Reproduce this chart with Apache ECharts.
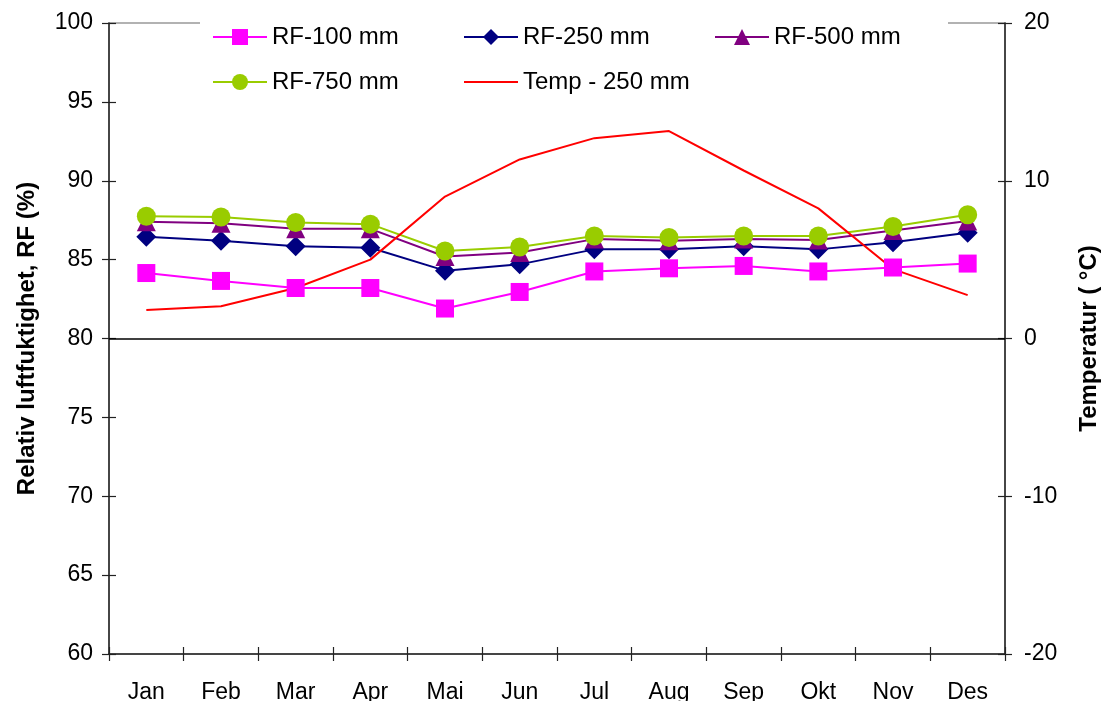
<!DOCTYPE html>
<html>
<head>
<meta charset="utf-8">
<title>Relativ luftfuktighet og temperatur</title>
<script src="https://cdn.jsdelivr.net/npm/echarts@6/dist/echarts.min.js"></script>
<style>
  html, body { margin: 0; padding: 0; background: #fff; }
  #chart { width: 1102px; height: 701px; }
</style>
</head>
<body>
<div id="chart"></div>
<script>
// Months (Norwegian)
const months = ['Jan', 'Feb', 'Mar', 'Apr', 'Mai', 'Jun', 'Jul', 'Aug', 'Sep', 'Okt', 'Nov', 'Des'];

// Relative humidity (%) at four depths
const rf100 = [84.15, 83.65, 83.2, 83.2, 81.9, 82.95, 84.25, 84.45, 84.6, 84.25, 84.5, 84.75];
const rf250 = [86.45, 86.2, 85.85, 85.75, 84.3, 84.7, 85.65, 85.65, 85.85, 85.65, 86.1, 86.7];
const rf500 = [87.4, 87.3, 86.95, 86.95, 85.2, 85.45, 86.3, 86.2, 86.3, 86.25, 86.85, 87.45];
const rf750 = [87.75, 87.7, 87.35, 87.25, 85.55, 85.8, 86.5, 86.4, 86.5, 86.5, 87.1, 87.85];

// Temperature (°C) at 250 mm
const temp250 = [1.8, 2.05, 3.2, 5.0, 9.0, 11.35, 12.7, 13.15, 10.65, 8.25, 4.4, 2.75];

// Axis ranges
const rfAxis = { min: 60, max: 100, interval: 5 };
const tempAxis = { min: -20, max: 20, interval: 10 };

const FONT = 'Liberation Sans, Arial, sans-serif';
const AXIS_COLOR = '#222';

const chart = echarts.init(document.getElementById('chart'), null, { renderer: 'canvas' });

const tickOut = { show: true, inside: false, length: 7, lineStyle: { color: AXIS_COLOR, width: 1.2 } };
const tickIn = { show: true, inside: true, length: 7, lineStyle: { color: AXIS_COLOR, width: 1.2 } };

function rfLine(name, data, color, symbol, size) {
  return {
    name, type: 'line', data,
    xAxisIndex: 0, yAxisIndex: 0,
    symbol, symbolSize: size,
    lineStyle: { color, width: 2 },
    itemStyle: { color },
    emphasis: { disabled: true },
    animation: false
  };
}

const legendCommon = {
  orient: 'horizontal',
  padding: 0,
  itemWidth: 54,
  itemHeight: 20,
  itemGap: 10,
  selectedMode: false,
  textStyle: { fontFamily: FONT, fontSize: 24, color: '#000', width: 181, lineHeight: 28 }
};

chart.setOption({
  backgroundColor: '#fff',
  animation: false,
  grid: {
    left: 109, right: 97, top: 23, bottom: 47,
    outerBoundsMode: 'none',
    containLabel: false,
    show: true, borderColor: '#999', borderWidth: 1.5, backgroundColor: 'transparent'
  },
  graphic: [{
    // white backdrop behind the legend
    type: 'rect', z: 3, silent: true,
    shape: { x: 200, y: 0, width: 748, height: 105 },
    style: { fill: '#fff' }
  }],
  legend: [
    Object.assign({}, legendCommon, {
      left: 212, top: 23,
      data: ['RF-100 mm', 'RF-250 mm', 'RF-500 mm']
    }),
    Object.assign({}, legendCommon, {
      left: 212, top: 68,
      data: [
        'RF-750 mm',
        // temperature is a plain line: hide the legend marker
        { name: 'Temp - 250 mm', itemStyle: { opacity: 0 } }
      ]
    })
  ],
  xAxis: [{
    type: 'category', data: months, position: 'bottom',
    boundaryGap: true,
    axisLine: { show: true, onZero: false, lineStyle: { color: AXIS_COLOR, width: 1.5 } },
    axisTick: Object.assign({ alignWithLabel: false }, tickOut),
    axisLabel: { fontFamily: FONT, fontSize: 23, color: '#000', margin: 27 },
    splitLine: { show: false }
  }, {
    type: 'category', data: months, position: 'bottom',
    boundaryGap: true,
    axisLine: { show: false, onZero: false },
    axisTick: Object.assign({ alignWithLabel: false }, tickIn),
    axisLabel: { show: false },
    splitLine: { show: false }
  }],
  yAxis: [{
    type: 'value', position: 'left',
    min: rfAxis.min, max: rfAxis.max, interval: rfAxis.interval,
    name: 'Relativ luftfuktighet, RF (%)', nameLocation: 'middle', nameRotate: 90, nameGap: 70,
    nameTextStyle: { fontFamily: FONT, fontSize: 24, fontWeight: 'bold', color: '#000' },
    axisLine: { show: true, lineStyle: { color: AXIS_COLOR, width: 1.5 } },
    axisTick: tickOut,
    axisLabel: { fontFamily: FONT, fontSize: 23, color: '#000', margin: 16 },
    splitLine: { show: false }
  }, {
    type: 'value', position: 'right',
    min: tempAxis.min, max: tempAxis.max, interval: tempAxis.interval,
    name: 'Temperatur ( °C)', nameLocation: 'middle', nameRotate: 90, nameGap: 72,
    nameTextStyle: { fontFamily: FONT, fontSize: 24, fontWeight: 'bold', color: '#000' },
    axisLine: { show: true, lineStyle: { color: AXIS_COLOR, width: 1.5 } },
    axisTick: tickOut,
    axisLabel: { fontFamily: FONT, fontSize: 23, color: '#000', margin: 19 },
    splitLine: { show: false }
  }, {
    type: 'value', position: 'left',
    min: rfAxis.min, max: rfAxis.max, interval: rfAxis.interval,
    axisLine: { show: false }, axisTick: tickIn, axisLabel: { show: false }, splitLine: { show: false }
  }, {
    type: 'value', position: 'right',
    min: tempAxis.min, max: tempAxis.max, interval: tempAxis.interval,
    axisLine: { show: false }, axisTick: tickIn, axisLabel: { show: false }, splitLine: { show: false }
  }],
  series: [
    rfLine('RF-100 mm', rf100, '#FF00FF', 'rect', 18),
    rfLine('RF-250 mm', rf250, '#000080', 'diamond', 20),
    rfLine('RF-500 mm', rf500, '#800080', 'triangle', 19),
    rfLine('RF-750 mm', rf750, '#99CC00', 'circle', 19),
    {
      name: 'Temp - 250 mm', type: 'line', data: temp250,
      xAxisIndex: 0, yAxisIndex: 1,
      symbol: 'none',
      lineStyle: { color: '#FF0000', width: 2 },
      itemStyle: { color: '#FF0000' },
      emphasis: { disabled: true },
      z: 3,
      markLine: {
        silent: true, symbol: 'none',
        label: { show: false },
        lineStyle: { color: '#000', type: 'solid', width: 1.5 },
        data: [{ yAxis: 0 }]
      },
      animation: false
    }
  ]
});
</script>
</body>
</html>
